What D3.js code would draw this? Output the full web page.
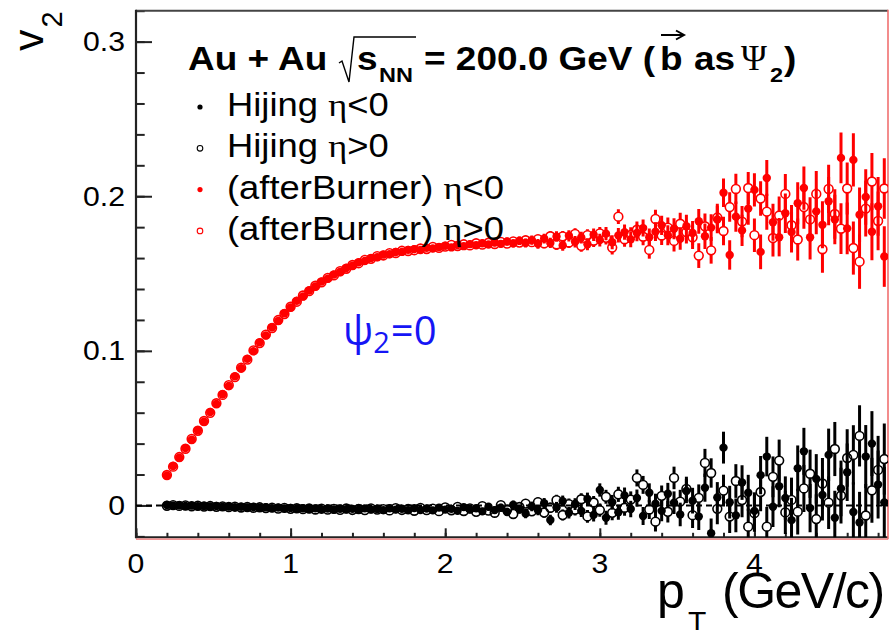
<!DOCTYPE html>
<html>
<head>
<meta charset="utf-8">
<script src="https://cdn.jsdelivr.net/npm/d3@7"></script>
<style>
  html, body { margin: 0; padding: 0; background: #fff; }
  svg { display: block; }
</style>
</head>
<body>
<svg id="chart" width="889" height="630"></svg>
<script>
// ---- pT binning (GeV/c): bin centres of the v2(pT) histograms ----
const binFirst = 0.20, binWidth = 0.04, nBins = 117;
const ptBins = d3.range(nBins).map(i => +(binFirst + i * binWidth).toFixed(2));

// ---- Hijing, eta < 0 (filled black) ----
const hijingNeg = [
  0.0003,-0.0002,0.0001,-0.0004,-0.0001,-0.0005,-0.0003,-0.0006,-0.0004,-0.0008,
  -0.0007,-0.0011,-0.0009,-0.0013,-0.0010,-0.0015,-0.0012,-0.0017,-0.0014,-0.0019,
  -0.0016,-0.0021,-0.0018,-0.0023,-0.0019,-0.0024,-0.0020,-0.0026,-0.0021,-0.0025,
  -0.0022,-0.0028,-0.0019,-0.0026,-0.0023,-0.0030,-0.0018,-0.0027,-0.0021,-0.0031,
  -0.0017,-0.0029,-0.0020,-0.0032,-0.0014,-0.0027,-0.0022,-0.0035,-0.0011,-0.0026,
  -0.0018,-0.0038,-0.0008,-0.0030,-0.0015,-0.0042,0.0004,-0.0025,-0.0052,-0.0006,
  -0.0031,0.0015,-0.0094,-0.0012,0.0028,-0.0047,0.0009,-0.0035,0.0042,-0.0061,
  0.0100,-0.0080,0.0021,-0.0044,0.0065,-0.0023,0.0048,-0.0068,0.0082,0.0012,
  -0.0035,0.0076,0.0018,-0.0058,0.0094,0.0031,-0.0072,0.0115,-0.0180,0.0052,
  0.0374,0.0021,-0.0064,0.0148,0.0082,-0.0035,0.0196,0.0316,-0.0008,0.0124,
  0.0048,-0.0095,0.0240,0.0350,-0.0017,0.0172,0.0068,0.0327,-0.0080,0.0110,
  0.0215,-0.0042,-0.0110,0.0316,0.0400,0.0135,0.0020
];
// ---- Hijing, eta > 0 (open black) ----
const hijingPos = [
  -0.0002,0.0002,-0.0003,0.0000,-0.0005,-0.0002,-0.0007,-0.0004,-0.0009,-0.0006,
  -0.0010,-0.0008,-0.0013,-0.0010,-0.0015,-0.0012,-0.0017,-0.0014,-0.0020,-0.0016,
  -0.0022,-0.0018,-0.0024,-0.0020,-0.0026,-0.0021,-0.0027,-0.0022,-0.0028,-0.0020,
  -0.0029,-0.0023,-0.0030,-0.0019,-0.0027,-0.0024,-0.0032,-0.0017,-0.0029,-0.0022,
  -0.0034,-0.0016,-0.0030,-0.0021,-0.0037,-0.0013,-0.0031,-0.0009,-0.0036,-0.0019,
  -0.0041,-0.0005,-0.0033,-0.0047,0.0002,-0.0028,-0.0055,-0.0010,0.0012,-0.0038,
  0.0021,-0.0046,-0.0015,0.0034,-0.0062,0.0008,-0.0027,0.0040,-0.0071,0.0019,
  -0.0030,0.0056,-0.0048,0.0072,-0.0015,0.0038,0.0178,0.0133,-0.0026,-0.0105,
  0.0062,-0.0041,0.0178,0.0025,0.0107,-0.0063,0.0049,0.0275,0.0210,-0.0022,
  0.0096,-0.0072,0.0158,0.0035,-0.0137,-0.0050,0.0087,-0.0137,0.0185,0.0290,
  -0.0045,0.0036,-0.0040,0.0110,0.0205,-0.0088,0.0142,0.0018,0.0365,0.0064,
  0.0307,0.0327,0.0450,-0.0065,0.0098,0.0230,0.0300
];
// ---- statistical errors of the Hijing points ----
const hijingErr = [
  0.0003,0.0003,0.0003,0.0003,0.0003,0.0004,0.0004,0.0004,0.0004,0.0004,
  0.0004,0.0004,0.0005,0.0005,0.0005,0.0005,0.0005,0.0006,0.0006,0.0006,
  0.0006,0.0007,0.0007,0.0007,0.0008,0.0008,0.0008,0.0009,0.0009,0.0010,
  0.0010,0.0010,0.0011,0.0011,0.0012,0.0012,0.0013,0.0013,0.0014,0.0014,
  0.0015,0.0015,0.0016,0.0017,0.0017,0.0018,0.0019,0.0020,0.0020,0.0021,
  0.0022,0.0023,0.0024,0.0025,0.0026,0.0027,0.0028,0.0029,0.0030,0.0031,
  0.0032,0.0033,0.0034,0.0035,0.0036,0.0037,0.0038,0.0039,0.0041,0.0042,
  0.0043,0.0045,0.0047,0.0049,0.0051,0.0053,0.0055,0.0058,0.0061,0.0064,
  0.0067,0.0070,0.0073,0.0076,0.0079,0.0083,0.0087,0.0091,0.0095,0.0099,
  0.0103,0.0106,0.0109,0.0112,0.0116,0.0120,0.0124,0.0128,0.0132,0.0136,
  0.0140,0.0144,0.0148,0.0152,0.0156,0.0160,0.0165,0.0170,0.0175,0.0180,
  0.0186,0.0192,0.0198,0.0204,0.0210,0.0220,0.0230
];
// ---- afterBurner, eta < 0 (filled red) ----
const burnerNeg = [
  0.0194,0.0255,0.0309,0.0371,0.0425,0.0487,0.0541,0.0604,0.0657,0.0719,
  0.0773,0.0835,0.0887,0.0948,0.0998,0.1055,0.1100,0.1153,0.1194,0.1243,
  0.1280,0.1323,0.1352,0.1390,0.1416,0.1448,0.1467,0.1493,0.1510,0.1536,
  0.1550,0.1572,0.1582,0.1600,0.1606,0.1622,0.1625,0.1639,0.1640,0.1653,
  0.1658,0.1652,0.1667,0.1662,0.1671,0.1680,0.1669,0.1684,0.1677,0.1690,
  0.1683,0.1696,0.1688,0.1700,0.1692,0.1707,0.1695,0.1712,0.1698,0.1716,
  0.1692,0.1726,0.1698,0.1739,0.1682,0.1744,0.1705,0.1733,0.1690,0.1751,
  0.1716,0.1758,0.1702,0.1747,0.1768,0.1721,0.1762,0.1794,0.1735,0.1771,
  0.1812,0.1748,0.1790,0.1725,0.1806,0.1762,0.1838,0.1741,0.1797,0.1850,
  0.2023,0.1620,0.1868,0.1779,0.1920,0.2041,0.1640,0.2118,0.1832,0.1735,
  0.1890,0.1768,0.1955,0.2053,0.1735,0.1902,0.1815,0.1968,0.1850,0.2248,
  0.1792,0.2235,0.1880,0.1995,0.1770,0.1935,0.1610
];
// ---- afterBurner, eta > 0 (open red) ----
const burnerPos = [
  0.0197,0.0251,0.0313,0.0367,0.0430,0.0483,0.0546,0.0599,0.0661,0.0715,
  0.0778,0.0830,0.0891,0.0943,0.1003,0.1050,0.1105,0.1148,0.1199,0.1238,
  0.1285,0.1318,0.1358,0.1386,0.1421,0.1443,0.1472,0.1488,0.1515,0.1531,
  0.1555,0.1567,0.1588,0.1595,0.1612,0.1617,0.1632,0.1633,0.1647,0.1646,
  0.1651,0.1662,0.1659,0.1672,0.1666,0.1674,0.1685,0.1678,0.1689,0.1682,
  0.1696,0.1687,0.1699,0.1691,0.1705,0.1694,0.1708,0.1700,0.1715,0.1703,
  0.1722,0.1695,0.1741,0.1688,0.1740,0.1701,0.1756,0.1679,0.1748,0.1712,
  0.1760,0.1731,0.1668,0.1868,0.1722,0.1749,0.1783,0.1738,0.1653,0.1853,
  0.1746,0.1797,0.1711,0.1822,0.1768,0.1735,0.1616,0.1806,0.1650,0.1862,
  0.1775,0.1930,0.2047,0.1836,0.2053,0.1748,0.1985,0.1900,0.1730,0.1875,
  0.2015,0.1812,0.1720,0.1930,0.1850,0.2015,0.1657,0.2047,0.1885,0.1790,
  0.2050,0.1665,0.1577,0.1920,0.2095,0.1840,0.2050
];
// ---- statistical errors of the afterBurner points ----
const burnerErr = [
  0.0002,0.0002,0.0002,0.0002,0.0002,0.0003,0.0003,0.0003,0.0003,0.0003,
  0.0003,0.0003,0.0004,0.0004,0.0004,0.0004,0.0004,0.0005,0.0005,0.0005,
  0.0005,0.0006,0.0006,0.0006,0.0007,0.0007,0.0007,0.0008,0.0008,0.0009,
  0.0009,0.0009,0.0010,0.0010,0.0011,0.0011,0.0012,0.0012,0.0013,0.0013,
  0.0014,0.0014,0.0015,0.0016,0.0016,0.0017,0.0018,0.0019,0.0019,0.0020,
  0.0021,0.0022,0.0023,0.0024,0.0025,0.0026,0.0027,0.0028,0.0029,0.0030,
  0.0031,0.0032,0.0033,0.0034,0.0035,0.0036,0.0037,0.0038,0.0039,0.0040,
  0.0041,0.0043,0.0045,0.0047,0.0049,0.0051,0.0053,0.0055,0.0057,0.0060,
  0.0062,0.0065,0.0068,0.0071,0.0074,0.0077,0.0080,0.0083,0.0086,0.0089,
  0.0092,0.0095,0.0098,0.0101,0.0104,0.0108,0.0112,0.0116,0.0120,0.0124,
  0.0128,0.0132,0.0136,0.0140,0.0144,0.0148,0.0152,0.0156,0.0160,0.0164,
  0.0168,0.0172,0.0176,0.0180,0.0184,0.0190,0.0196
];

// ---- axis ticks and labels ----
const xTicks = [0, 1, 2, 3, 4];
const xTickLabels = ["0", "1", "2", "3", "4"];
const yTicks = [0, 0.1, 0.2, 0.3];
const yTickLabels = ["0", "0.1", "0.2", "0.3"];

// ---- legend entries: [prefix, eta sign part] ----
const legendNames = ["Hijing ", "Hijing ", "(afterBurner) ", "(afterBurner) "];
const legendCuts = ["<0", ">0", "<0", ">0"];

// ---------------------------------------------------------------
const svg = d3.select("#chart");
const SANS = "'Liberation Sans', Arial, Helvetica, sans-serif";
const SERIF = "'Liberation Serif', 'Times New Roman', serif";
const RED = "#ff0000";
const SX = 1.12;           // horizontal widening of the ROOT-style text

const plot = { left: 136, right: 888, top: 10.7, bottom: 537.3 };
const x = d3.scaleLinear().domain([0, 4.864]).range([plot.left, plot.right]);
const y = d3.scaleLinear().domain([-0.0206, 0.32]).range([plot.bottom, plot.top]);

svg.append("rect").attr("width", 889).attr("height", 630).attr("fill", "#fff");

// clip for the data area
svg.append("defs").append("clipPath").attr("id", "plotclip")
  .append("rect")
  .attr("x", plot.left).attr("y", plot.top)
  .attr("width", plot.right - plot.left).attr("height", plot.bottom - plot.top);

// ---- axes (ticks point into the frame) ----
function styleAxis(g, width) {
  g.select(".domain").remove();
  g.selectAll(".tick line").attr("stroke", "#222").attr("stroke-width", width);
  g.selectAll(".tick text").remove();
}
const yMinorVals = d3.range(-1, 17).map(k => +(k * 0.02).toFixed(2));
svg.append("g").attr("transform", `translate(${plot.left},0)`)
  .call(d3.axisLeft(y).tickValues(yMinorVals).tickSize(-8.7).tickFormat(""))
  .call(g => styleAxis(g, 2));
svg.append("g").attr("transform", `translate(${plot.left},0)`)
  .call(d3.axisLeft(y).tickValues(yTicks).tickSize(-16).tickFormat(""))
  .call(g => styleAxis(g, 2));

const xMinorVals = d3.range(0, 25).map(k => +(k * 0.2).toFixed(1));
svg.append("g").attr("transform", `translate(0,${plot.bottom})`)
  .call(d3.axisBottom(x).tickValues(xMinorVals).tickSize(-4.5).tickFormat(""))
  .call(g => styleAxis(g, 2));
svg.append("g").attr("transform", `translate(0,${plot.bottom})`)
  .call(d3.axisBottom(x).tickValues(xTicks).tickSize(-9).tickFormat(""))
  .call(g => styleAxis(g, 2));

// ---- frame ----
svg.append("line").attr("x1", plot.left).attr("x2", plot.right)
  .attr("y1", plot.top).attr("y2", plot.top)
  .attr("stroke", "#444").attr("stroke-width", 2);
svg.append("line").attr("x1", plot.left).attr("x2", plot.left)
  .attr("y1", plot.top - 1).attr("y2", plot.bottom + 1)
  .attr("stroke", "#222").attr("stroke-width", 2.2);
svg.append("line").attr("x1", plot.left).attr("x2", plot.right)
  .attr("y1", plot.bottom).attr("y2", plot.bottom)
  .attr("stroke", "#222").attr("stroke-width", 2);
svg.append("line").attr("x1", plot.left).attr("x2", plot.right)
  .attr("y1", plot.bottom + 1.8).attr("y2", plot.bottom + 1.8)
  .attr("stroke", "#f07070").attr("stroke-width", 1.2);
svg.append("line").attr("x1", plot.right).attr("x2", plot.right)
  .attr("y1", plot.top - 1).attr("y2", plot.bottom + 2)
  .attr("stroke", "#f07070").attr("stroke-width", 1.6);

// ---- tick labels ----
function wideText(parent, px, py, str, size, anchor, weight) {
  return parent.append("text")
    .attr("transform", `translate(${px},${py}) scale(${SX},1)`)
    .attr("text-anchor", anchor || "start")
    .attr("font-family", SANS)
    .attr("font-size", size)
    .attr("font-weight", weight || "normal")
    .attr("fill", "#000")
    .text(str);
}
yTicks.forEach((v, i) => wideText(svg, 125, y(v) + 9.5, yTickLabels[i], 27, "end"));
xTicks.forEach((v, i) => wideText(svg, x(v), 573, xTickLabels[i], 27, "middle"));

// ---- axis titles ----
const yTitle = svg.append("text")
  .attr("transform", "translate(43,51) rotate(-90)")
  .attr("font-family", SANS).attr("fill", "#000");
yTitle.append("tspan").attr("font-size", 43).text("v");
yTitle.append("tspan").attr("font-size", 29).attr("dy", 19).attr("dx", 2).text("2");

svg.append("text").attr("x", 657).attr("y", 608)
  .attr("font-family", SANS).attr("font-size", 50).text("p");
svg.append("text").attr("x", 688).attr("y", 632)
  .attr("font-family", SANS).attr("font-size", 30).text("T");
svg.append("text").attr("x", 722).attr("y", 608)
  .attr("font-family", SANS).attr("font-size", 50)
  .attr("letter-spacing", -1.5).text("(GeV/c)");

// ---- data ----
const dataG = svg.append("g").attr("clip-path", "url(#plotclip)");

// y = 0 reference line
dataG.append("line")
  .attr("x1", x(0)).attr("x2", x(4.864))
  .attr("y1", y(0)).attr("y2", y(0))
  .attr("stroke", "#000").attr("stroke-width", 2)
  .attr("stroke-dasharray", "6,4");

const R_FILLED = 4.2, R_OPEN = 4.4;
function drawSeries(vals, errs, color, open) {
  const pts = ptBins.map((pt, i) => ({ pt, v: vals[i], e: errs[i] }));
  const g = dataG.append("g");
  const gap = open ? R_OPEN : 0;   // error bars stop at the rim of open markers
  const segs = [];
  pts.forEach(d => {
    const cy = y(d.v), top = y(d.v + d.e), bot = y(d.v - d.e);
    if (cy - top > gap) segs.push({ pt: d.pt, y1: top, y2: cy - gap });
    if (bot - cy > gap) segs.push({ pt: d.pt, y1: cy + gap, y2: bot });
  });
  g.selectAll("line").data(segs).join("line")
    .attr("x1", d => x(d.pt)).attr("x2", d => x(d.pt))
    .attr("y1", d => d.y1).attr("y2", d => d.y2)
    .attr("stroke", color).attr("stroke-width", 3);
  g.selectAll("circle").data(pts).join("circle")
    .attr("cx", d => x(d.pt)).attr("cy", d => y(d.v))
    .attr("r", open ? R_OPEN : R_FILLED)
    .attr("fill", open ? "none" : color)
    .attr("stroke", color)
    .attr("stroke-width", open ? 1.6 : 0);
}
drawSeries(hijingNeg, hijingErr, "#000", false);
drawSeries(hijingPos, hijingErr, "#000", true);
drawSeries(burnerNeg, burnerErr, RED, false);
drawSeries(burnerPos, burnerErr, RED, true);

// ---- legend header: Au + Au sqrt(s_NN) = 200.0 GeV (b as Psi_2) ----
const hdr = svg.append("g");
wideText(hdr, 188, 70, "Au + Au", 33, "start", "bold");
hdr.append("path")
  .attr("d", "M339,63 L342,61 L349,82 L354,37 L416,37")
  .attr("fill", "none").attr("stroke", "#000").attr("stroke-width", 1.4);
wideText(hdr, 357, 70, "s", 33, "start", "bold");
wideText(hdr, 379, 81.5, "NN", 21, "start", "bold");
wideText(hdr, 424, 70, "= 200.0 GeV (", 33, "start", "bold");
wideText(hdr, 660, 70, "b", 33, "start", "bold");
hdr.append("line").attr("x1", 661).attr("x2", 683).attr("y1", 35).attr("y2", 35)
  .attr("stroke", "#000").attr("stroke-width", 2);
hdr.append("path").attr("d", "M676,30.5 L684,35 L676,39.5")
  .attr("fill", "none").attr("stroke", "#000").attr("stroke-width", 2);
wideText(hdr, 694, 70, "as", 33, "start", "bold");
hdr.append("text").attr("x", 741).attr("y", 70)
  .attr("font-family", SERIF).attr("font-size", 35).text("\u03A8");
wideText(hdr, 770, 81.5, "2", 21, "start", "bold");
wideText(hdr, 784, 70, ")", 33, "start", "bold");

// ---- legend entries ----
const legendStyles = [
  { color: "#000", open: false },
  { color: "#000", open: true },
  { color: RED, open: false },
  { color: RED, open: true }
];
legendNames.forEach((name, i) => {
  const cy = 107 + i * 41.3;
  const st = legendStyles[i];
  svg.append("circle").attr("cx", 200).attr("cy", cy)
    .attr("r", st.open ? 2.8 : 2.6)
    .attr("fill", st.open ? "#fff" : st.color)
    .attr("stroke", st.color).attr("stroke-width", st.open ? 1.1 : 0);
  const t = svg.append("text")
    .attr("transform", `translate(227,${cy + 9}) scale(${SX},1)`)
    .attr("font-family", SANS).attr("font-size", 32.5).attr("fill", "#000");
  t.append("tspan").text(name);
  t.append("tspan").attr("font-family", SERIF).text("\u03B7");
  t.append("tspan").text(legendCuts[i]);
});

// ---- event-plane annotation ----
const ann = svg.append("text").attr("x", 343).attr("y", 345)
  .attr("font-family", "'Open Sans', 'Noto Sans', sans-serif")
  .attr("fill", "#1515f5");
ann.append("tspan").attr("font-size", 40).text("\u03C8");
ann.append("tspan").attr("font-size", 29).attr("dy", 8).text("2");
ann.append("tspan").attr("font-size", 40).attr("dy", -8).attr("dx", 1).text("=0");
</script>
</body>
</html>
